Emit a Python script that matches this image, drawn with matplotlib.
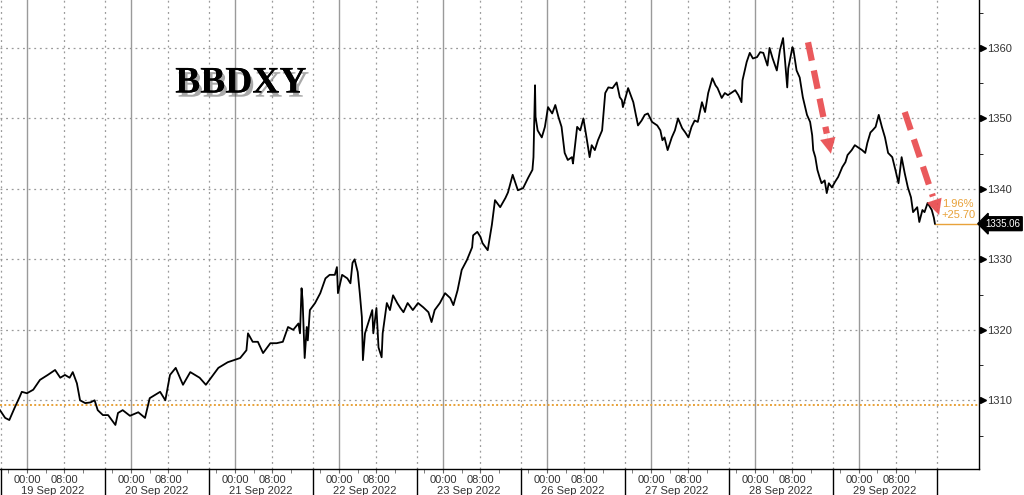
import matplotlib
matplotlib.use("Agg")
import matplotlib.pyplot as plt
import matplotlib.patheffects as pe
import matplotlib.transforms as mtransforms
import numpy as np

# time in trading-day units (0 = start of the 19 Sep session), value of BBDXY
t = [-0.01, 0.04, 0.08, 0.13, 0.18, 0.20, 0.25, 0.31, 0.375, 0.45, 0.52, 0.57, 0.615, 0.66, 0.69,
     0.73, 0.76, 0.81, 0.86, 0.90, 0.93, 0.98, 1.03, 1.10, 1.125, 1.17, 1.24, 1.32, 1.385, 1.43,
     1.53, 1.58, 1.625, 1.68, 1.75, 1.82, 1.91, 1.97, 2.03, 2.09, 2.18, 2.30, 2.36, 2.375, 2.42,
     2.47, 2.52, 2.59, 2.65, 2.71, 2.76, 2.81, 2.86, 2.875, 2.89, 2.90, 2.92, 2.94, 2.95, 2.97,
     3.02, 3.07, 3.12, 3.16, 3.21, 3.23, 3.24, 3.28, 3.33, 3.36, 3.38, 3.40, 3.43, 3.45, 3.47,
     3.48, 3.50, 3.53, 3.57, 3.58, 3.61, 3.63, 3.66, 3.67, 3.71, 3.74, 3.77, 3.81, 3.84, 3.87,
     3.91, 3.96, 4.01, 4.06, 4.11, 4.14, 4.17, 4.22, 4.27, 4.32, 4.35, 4.39, 4.43, 4.48, 4.53,
     4.54, 4.58, 4.61, 4.63, 4.68, 4.72, 4.75, 4.80, 4.85, 4.875, 4.92, 4.97, 5.02, 5.07, 5.11,
     5.12, 5.135, 5.14, 5.16, 5.20, 5.23, 5.26, 5.30, 5.33, 5.36, 5.39, 5.42, 5.45, 5.49, 5.50,
     5.54, 5.57, 5.60, 5.63, 5.66, 5.68, 5.71, 5.74, 5.78, 5.81, 5.84, 5.88, 5.92, 5.95, 5.97,
     5.98, 6.03, 6.08, 6.125, 6.16, 6.19, 6.22, 6.26, 6.31, 6.34, 6.36, 6.38, 6.41, 6.45, 6.48,
     6.51, 6.55, 6.58, 6.61, 6.64, 6.67, 6.70, 6.74, 6.77, 6.80, 6.84, 6.87, 6.89, 6.93, 6.96,
     6.99, 7.03, 7.06, 7.09, 7.12, 7.13, 7.17, 7.20, 7.23, 7.27, 7.30, 7.33, 7.37, 7.39, 7.42,
     7.46, 7.49, 7.52, 7.54, 7.56, 7.57, 7.61, 7.62, 7.65, 7.68, 7.71, 7.75, 7.78, 7.80, 7.81,
     7.83, 7.85, 7.87, 7.89, 7.92, 7.94, 7.96, 7.99, 8.02, 8.05, 8.09, 8.12, 8.14, 8.18, 8.21,
     8.24, 8.28, 8.31, 8.33, 8.36, 8.38, 8.41, 8.44, 8.47, 8.50, 8.53, 8.57, 8.60, 8.63, 8.66,
     8.69, 8.72, 8.75, 8.77, 8.81, 8.83, 8.86, 8.88, 8.91, 8.95, 8.97, 8.98]
v = [1308.6, 1307.5, 1307.2, 1308.9, 1310.5, 1311.2, 1311.0, 1311.5, 1312.9, 1313.6, 1314.3, 1313.2, 1313.6, 1313.2, 1314.0,
     1312.4, 1310.0, 1309.6, 1309.7, 1310.0, 1308.6, 1307.9, 1307.9, 1306.5, 1308.2, 1308.6, 1307.8, 1308.3, 1307.5, 1310.3,
     1311.2, 1310.0, 1313.6, 1314.6, 1312.2, 1314.0, 1313.2, 1312.2, 1313.4, 1314.6, 1315.4, 1316.0, 1317.1, 1319.5, 1318.3,
     1318.3, 1316.7, 1318.1, 1318.1, 1318.3, 1320.4, 1320.0, 1320.9, 1319.5, 1325.9, 1324.2, 1316.0, 1320.4, 1318.5, 1322.8,
     1323.8, 1325.2, 1327.3, 1327.8, 1327.8, 1328.9, 1325.2, 1327.8, 1327.3, 1326.6, 1329.5, 1330.0, 1328.2, 1325.2, 1321.8,
     1315.7, 1319.5, 1320.9, 1322.8, 1319.5, 1323.1, 1317.5, 1316.1, 1319.5, 1323.8, 1322.8, 1324.9, 1323.8, 1323.1, 1322.5,
     1323.8, 1322.8, 1323.8, 1323.2, 1322.5, 1321.1, 1322.8, 1323.8, 1325.2, 1324.5, 1323.5, 1325.6, 1328.5, 1329.9, 1331.7,
     1333.4, 1333.9, 1333.2, 1332.3, 1331.3, 1334.9, 1338.4, 1337.4, 1338.7, 1339.5, 1342.0, 1339.8, 1340.1, 1341.6, 1342.7,
     1344.5, 1354.7, 1350.2, 1348.3, 1347.3, 1348.8, 1351.6, 1350.7, 1351.9, 1350.2, 1348.8, 1345.1, 1344.1, 1344.5, 1343.6,
     1348.8, 1348.3, 1350.0, 1347.3, 1344.5, 1346.2, 1345.5, 1346.9, 1348.3, 1353.6, 1354.4, 1354.3, 1355.1, 1353.0, 1352.6,
     1351.6, 1354.3, 1352.3, 1349.0, 1349.7, 1350.5, 1350.7, 1349.5, 1349.0, 1348.3, 1346.9, 1347.3, 1345.5, 1347.3, 1348.3,
     1350.0, 1348.6, 1348.0, 1347.3, 1348.8, 1349.7, 1349.5, 1352.3, 1350.9, 1353.6, 1355.7, 1354.7, 1354.3, 1352.9, 1353.6,
     1353.3, 1353.7, 1354.0, 1353.3, 1352.3, 1355.4, 1358.0, 1359.3, 1358.5, 1358.7, 1359.4, 1359.3, 1357.5, 1360.0, 1358.5,
     1356.8, 1359.7, 1361.4, 1358.0, 1354.4, 1357.1, 1360.1, 1359.7, 1356.8, 1355.8, 1353.0, 1350.5, 1349.5, 1347.6, 1345.5,
     1344.5, 1342.7, 1341.7, 1340.8, 1341.2, 1339.4, 1340.8, 1340.2, 1341.0, 1341.7, 1343.1, 1343.8, 1344.8, 1345.5, 1346.2,
     1345.9, 1345.5, 1345.1, 1346.5, 1348.0, 1348.3, 1348.8, 1350.5, 1348.8, 1347.3, 1345.1, 1344.5, 1342.7, 1340.8, 1344.5,
     1342.2, 1340.2, 1338.8, 1336.7, 1337.4, 1335.3, 1337.0, 1336.7, 1338.0, 1337.0, 1335.9, 1335.06]

base_value = 1309.36
days = ["19 Sep 2022", "20 Sep 2022", "21 Sep 2022", "22 Sep 2022", "23 Sep 2022",
        "26 Sep 2022", "27 Sep 2022", "28 Sep 2022", "29 Sep 2022"]
y_ticks = [1310, 1320, 1330, 1340, 1350, 1360]
# position of midnight and 08:00 within each session, 4h step
midnight = 0.25
four_h = 0.178

arrows = [((7.76, 1360.8), (7.98, 1345.0)), ((8.69, 1350.9), (9.02, 1336.3))]

orange = "#e8a23a"
red = "#e8474a"
grid_c = "#9a9a9a"

fig = plt.figure(figsize=(10.24, 4.95), dpi=100)
ax = fig.add_axes([0, 26 / 495, 979 / 1024, 469 / 495])
ax.set_xlim(-0.0096, 9.404)
ax.set_ylim(1300.25, 1366.8)

n = len(days)
# vertical grid
for i in range(n):
    ax.axvline(i + midnight, color=grid_c, lw=1.0, zorder=1)
    ax.axvline(i + midnight + 2 * four_h, color=grid_c, lw=0.9, ls=(0, (1.5, 3)), zorder=1)
    ax.axvline(i, color=grid_c, lw=0.9, ls=(0, (1.5, 3)), zorder=1)
ax.axvline(n, color=grid_c, lw=0.9, ls=(0, (1.5, 3)), zorder=1)
for yv in y_ticks:
    ax.axhline(yv, color=grid_c, lw=0.9, ls=(0, (1.5, 3)), zorder=1)

ax.axhline(base_value, color=orange, lw=1.4, ls=(0, (1, 1.2)), zorder=2)

ax.plot(t, v, color="black", lw=1.3, zorder=3)

# last value line and labels
ax.plot([t[-1], ax.get_xlim()[1]], [v[-1], v[-1]], color=orange, lw=1.0, zorder=2, clip_on=False)
chg = v[-1] - base_value
ax.annotate(f"{chg / base_value * 100:.2f}%\n+{chg:.2f}", xy=(t[-1], v[-1]), xytext=(5, 3),
            textcoords="offset points", color=orange, fontsize=8, family="Liberation Sans",
            va="bottom", ha="left", linespacing=1.05, zorder=6)
ax.annotate(f"{v[-1]:.2f}", xy=(1.0, v[-1]), xycoords=("axes fraction", "data"),
            xytext=(4.5, 0), textcoords="offset points", color="white", fontsize=7,
            family="Liberation Sans", va="center", ha="left", annotation_clip=False,
            bbox=dict(boxstyle="larrow,pad=0.2", fc="black", ec="black"))

# red dashed arrows
for (x0, y0), (x1, y1) in arrows:
    fx = x0 + 0.82 * (x1 - x0)
    fy = y0 + 0.82 * (y1 - y0)
    ax.plot([x0, fx], [y0, fy], color=red, lw=4.5, ls=(0, (3, 1.6)), alpha=0.9,
            solid_capstyle="butt", zorder=5)
    ax.annotate("", xy=(x1, y1), xytext=(fx, fy),
                arrowprops=dict(arrowstyle="-|>,head_length=1.1,head_width=0.55",
                                color=red, lw=0.1, alpha=0.9, shrinkA=0, shrinkB=0), zorder=5)

# title
ax.text(0.246, 0.823, "BBDXY", transform=ax.transAxes, fontsize=27, fontweight="bold",
        family="Liberation Serif", ha="center", va="center", color="black", zorder=6,
        path_effects=[pe.withSimplePatchShadow(offset=(2, -3), shadow_rgbFace="#555555", alpha=0.5),
                      pe.Normal()])

# axes styling
for s in ["left", "top"]:
    ax.spines[s].set_visible(False)
ax.spines["right"].set_linewidth(1.0)
ax.spines["bottom"].set_linewidth(1.0)

ax.yaxis.tick_right()
ax.set_yticks(y_ticks)
ax.set_yticklabels([str(y) for y in y_ticks], fontsize=8, color="#333333", family="Liberation Sans")
ax.set_yticks(np.arange(1305, 1366, 10), minor=True)
ax.tick_params(axis="y", which="major", length=0, pad=6)
ax.tick_params(axis="y", which="minor", length=3, direction="out", color="black")
tr_y = mtransforms.blended_transform_factory(ax.transAxes, ax.transData)
ax.plot([1.004] * len(y_ticks), y_ticks, marker=">", ms=4, color="black", ls="none",
        transform=tr_y, clip_on=False)

maj = []
minr = []
for i in range(n):
    maj += [i + midnight, i + midnight + 2 * four_h]
    minr += [i + midnight - four_h, i + midnight + four_h, i + midnight + 3 * four_h]
ax.set_xticks(maj)
ax.set_xticklabels(["00:00", "08:00"] * n, fontsize=8, color="#333333", family="Liberation Sans")
ax.set_xticks(minr, minor=True)
ax.tick_params(axis="x", which="both", length=3, direction="out", color="#666666", pad=1)

tr_x = mtransforms.blended_transform_factory(ax.transData, ax.transAxes)
for i, d in enumerate(days):
    ax.text(i + 0.5, -0.047, d, transform=tr_x, ha="center", va="center", fontsize=8,
            color="#333333", family="Liberation Sans")
    ax.plot([i, i], [0, -0.06], transform=tr_x, color="black", lw=1.0, clip_on=False)
ax.plot([n, n], [0, -0.06], transform=tr_x, color="black", lw=1.0, clip_on=False)

fig.savefig("out.png", dpi=100)
